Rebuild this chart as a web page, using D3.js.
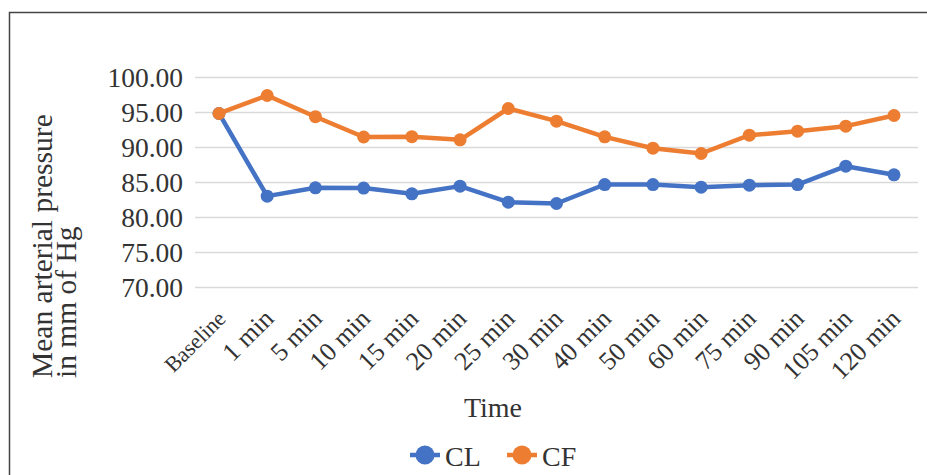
<!DOCTYPE html>
<html>
<head>
<meta charset="utf-8">
<script src="https://cdn.jsdelivr.net/npm/d3@7"></script>
<style>
  body { margin: 0; background: #fff; }
  text { font-family: "Liberation Serif", "Times New Roman", serif; fill: #333; }
</style>
</head>
<body>
<div id="chart"></div>
<script>
let times = ["Baseline", "1 min", "5 min", "10 min", "15 min", "20 min", "25 min", "30 min",
             "40 min", "50 min", "60 min", "75 min", "90 min", "105 min", "120 min"];
let clValues = [94.86, 83.05, 84.24, 84.2, 83.38, 84.48, 82.19, 82.0,
                84.71, 84.71, 84.33, 84.62, 84.71, 87.33, 86.1];
let cfValues = [94.86, 97.43, 94.4, 91.5, 91.55, 91.1, 95.57, 93.76,
                91.52, 89.9, 89.14, 91.76, 92.33, 93.05, 94.57];
let yTicks = [70, 75, 80, 85, 90, 95, 100];
let seriesNames = ["CL", "CF"];
let seriesColors = ["#4472C4", "#ED7D31"];

let w = 927, h = 475;

let svg = d3.select("#chart").append("svg")
    .attr("width", w)
    .attr("height", h);

// frame, only left and top visible
svg.append("rect")
    .attr("x", 9.5).attr("y", 12.5)
    .attr("width", w + 20).attr("height", h + 20)
    .attr("fill", "none")
    .attr("stroke", "#444")
    .attr("stroke-width", 1.5);

let x = d3.scalePoint()
    .domain(times)
    .range([219, 894]);

let y = d3.scaleLinear()
    .domain([70, 100])
    .range([287.5, 77.5]);

// grid
svg.append("g")
  .selectAll("line")
  .data(yTicks)
  .enter().append("line")
    .attr("x1", 195).attr("x2", 918)
    .attr("y1", d => y(d)).attr("y2", d => y(d))
    .attr("stroke", "#d9d9d9")
    .attr("stroke-width", 1.5);

// y axis labels
let yAxis = svg.append("g")
    .attr("transform", "translate(183,0)")
    .call(d3.axisLeft(y).tickValues(yTicks).tickSize(0).tickPadding(0)
      .tickFormat(d3.format(".2f")));
yAxis.select(".domain").remove();
yAxis.selectAll("text")
    .attr("font-size", 27.5)
    .attr("fill", "#333")
    .attr("font-family", "Liberation Serif, serif");

// x labels, rotated
svg.append("g")
  .selectAll("text")
  .data(times)
  .enter().append("text")
    .attr("transform", d => "translate(" + (x(d) + 8) + ",320) rotate(-45)")
    .attr("text-anchor", "end")
    .attr("font-size", d => d === "Baseline" ? 22 : 26)
    .text(d => d);

// axis titles
svg.append("text")
    .attr("x", 493).attr("y", 417)
    .attr("text-anchor", "middle")
    .attr("font-size", 28)
    .text("Time");

let yTitle = svg.append("text")
    .attr("transform", "translate(52,378) rotate(-90)")
    .attr("font-size", 29.5);
yTitle.append("tspan").attr("x", 0).attr("y", 0).text("Mean arterial pressure");
yTitle.append("tspan").attr("x", 0).attr("y", 24).text("in mm of Hg");

// series
let line = d3.line()
    .x((d, i) => x(times[i]))
    .y(d => y(d));

[clValues, cfValues].forEach((vals, k) => {
  let g = svg.append("g");
  g.append("path")
      .datum(vals)
      .attr("d", line)
      .attr("fill", "none")
      .attr("stroke", seriesColors[k])
      .attr("stroke-width", 4.5)
      .attr("stroke-linejoin", "round");
  g.selectAll("circle")
    .data(vals)
    .enter().append("circle")
      .attr("cx", (d, i) => x(times[i]))
      .attr("cy", d => y(d))
      .attr("r", 6.5)
      .attr("fill", seriesColors[k]);
});

// legend
let legendX = [425, 522];
seriesNames.forEach((name, k) => {
  let lg = svg.append("g").attr("transform", "translate(" + legendX[k] + ",455)");
  lg.append("line")
      .attr("x1", -15).attr("x2", 15)
      .attr("stroke", seriesColors[k])
      .attr("stroke-width", 4.5);
  lg.append("circle")
      .attr("r", 9.5)
      .attr("fill", seriesColors[k]);
  lg.append("text")
      .attr("x", 20).attr("y", 11)
      .attr("font-size", 28)
      .text(name);
});
</script>
</body>
</html>
